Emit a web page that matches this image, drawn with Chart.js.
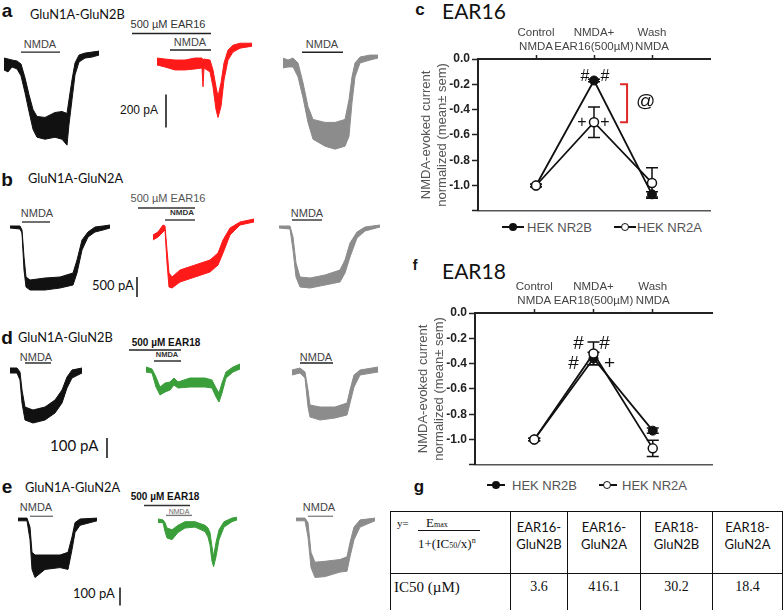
<!DOCTYPE html>
<html>
<head>
<meta charset="utf-8">
<script src="https://cdn.jsdelivr.net/npm/chart.js@4.4.0/dist/chart.umd.min.js"></script>
<style>
  body { margin: 0; background: #fff; }
  #fig { position: relative; width: 784px; height: 610px; overflow: hidden; background: #fff;
         font-family: "Liberation Sans", Arial, sans-serif; color: #111; }
  #fig canvas { position: absolute; }
  .c { position: absolute; white-space: nowrap; line-height: 1; transform: translate(-50%, -50%); }
  .l { position: absolute; white-space: nowrap; line-height: 1; transform: translateY(-50%); }
  .let { font-weight: bold; font-size: 19px; }
  .cal { font-family: Lato, "Open Sans", sans-serif; }
  .glu { font-size: 12.8px; }
  .nm { font-size: 11px; color: #444; }
  .tiny { font-size: 8px; font-weight: bold; color: #333; }
  .lgl { position: absolute; height: 2px; background: #111; }
  .dot { position: absolute; width: 8px; height: 8px; border-radius: 50%; transform: translate(-50%, -50%);
         box-sizing: border-box; }
  #tbl { position: absolute; left: 390px; top: 511px; border-collapse: collapse; table-layout: fixed; }
  #tbl td { border: 1.5px solid #111; padding: 0; text-align: center; vertical-align: top; }
  #tbl .hd td { height: 54px; }
  #tbl .hd td.h { font-family: Lato, sans-serif; font-size: 13px; line-height: 17px; padding-top: 7px; }
  #tbl .vr td { height: 39px; font-family: "Liberation Serif", serif; font-size: 14px; padding-top: 5px; }
  .ser { font-family: "Liberation Serif", serif; }
</style>
</head>
<body>
<div id="fig">
  <!-- row a -->
  <div class="c let" style="left:7px;top:10px">a</div>
  <div class="l cal glu" style="left:30px;top:14px">GluN1A-GluN2B</div>
  <div class="c nm" style="left:40px;top:44px">NMDA</div>
  <div class="c nm" style="left:168px;top:24px;color:#333">500 µM EAR16</div>
  <div class="c nm" style="left:190px;top:42px">NMDA</div>
  <div class="c nm" style="left:322px;top:44px">NMDA</div>
  <div class="l" style="left:120px;top:110px;font-size:12px">200 pA</div>

  <!-- row b -->
  <div class="c let" style="left:7px;top:179px">b</div>
  <div class="l cal glu" style="left:28px;top:178px">GluN1A-GluN2A</div>
  <div class="c nm" style="left:37px;top:213px">NMDA</div>
  <div class="c nm" style="left:168px;top:198px;color:#555">500 µM EAR16</div>
  <div class="c tiny" style="left:182px;top:213px">NMDA</div>
  <div class="c nm" style="left:307px;top:213px">NMDA</div>
  <div class="l cal" style="left:92px;top:285px;font-size:13px">500 pA</div>

  <!-- row d -->
  <div class="c let" style="left:7px;top:337px">d</div>
  <div class="l cal glu" style="left:18px;top:337px">GluN1A-GluN2B</div>
  <div class="c nm" style="left:36px;top:357px">NMDA</div>
  <div class="c" style="left:166px;top:343px;font-size:10px;font-weight:bold">500 µM EAR18</div>
  <div class="c tiny" style="left:167px;top:355px;font-size:7.5px">NMDA</div>
  <div class="c nm" style="left:316px;top:357px">NMDA</div>
  <div class="l cal" style="left:50px;top:445px;font-size:15px">100 pA</div>

  <!-- row e -->
  <div class="c let" style="left:7px;top:486px">e</div>
  <div class="l cal glu" style="left:25px;top:487px">GluN1A-GluN2A</div>
  <div class="c nm" style="left:36px;top:507px">NMDA</div>
  <div class="c" style="left:165px;top:497px;font-size:10px;font-weight:bold">500 µM EAR18</div>
  <div class="c tiny" style="left:179px;top:511px;font-size:7px;color:#666;font-weight:normal">NMDA</div>
  <div class="c nm" style="left:319px;top:507px">NMDA</div>
  <div class="l cal" style="left:73px;top:593px;font-size:13px">100 pA</div>

  <!-- panel c -->
  <div class="c let" style="left:420px;top:9px;font-size:17px">c</div>
  <div class="l cal" style="left:442px;top:10px;font-size:21px">EAR16</div>
  <div class="lgl" style="left:502px;top:226px;width:22px"></div>
  <div class="dot" style="left:513px;top:227px;background:#111"></div>
  <div class="l" style="left:527px;top:227px;font-size:13px;color:#555">HEK NR2B</div>
  <div class="lgl" style="left:614px;top:226px;width:22px"></div>
  <div class="dot" style="left:625px;top:227px;background:#fff;border:1.5px solid #111"></div>
  <div class="l" style="left:637px;top:227px;font-size:13px;color:#555">HEK NR2A</div>

  <!-- panel f -->
  <div class="c let" style="left:415px;top:265px;font-size:14px">f</div>
  <div class="l cal" style="left:442px;top:270px;font-size:21px">EAR18</div>
  <div class="lgl" style="left:487px;top:484px;width:18px"></div>
  <div class="dot" style="left:496px;top:485px;background:#111"></div>
  <div class="l" style="left:512px;top:485px;font-size:13px;color:#555">HEK NR2B</div>
  <div class="lgl" style="left:599px;top:484px;width:18px"></div>
  <div class="dot" style="left:607px;top:485px;background:#fff;border:1.5px solid #111"></div>
  <div class="l" style="left:622px;top:485px;font-size:13px;color:#555">HEK NR2A</div>

  <!-- panel g -->
  <div class="c let" style="left:419px;top:486px;font-size:17px">g</div>
  <table id="tbl">
    <col style="width:120px"><col style="width:57px"><col style="width:73px"><col style="width:72px"><col style="width:70px">
    <tr class="hd">
      <td class="ser" style="text-align:left">
        <div style="position:relative;height:54px">
          <span style="position:absolute;left:6px;top:5px;font-size:11px">y=</span>
          <span style="position:absolute;left:35px;top:3px;font-size:13px">E<span style="font-size:8px">max</span></span>
          <div style="position:absolute;left:27px;top:18px;width:62px;border-top:1px solid #111"></div>
          <span style="position:absolute;left:27px;top:24px;font-size:13px">1+(IC<span style="font-size:8px">50</span>/x)<sup style="font-size:8px">n</sup></span>
        </div>
      </td>
      <td class="h">EAR16-<br>GluN2B</td>
      <td class="h">EAR16-<br>GluN2A</td>
      <td class="h">EAR18-<br>GluN2B</td>
      <td class="h">EAR18-<br>GluN2A</td>
    </tr>
    <tr class="vr">
      <td style="text-align:left;padding-left:3px;font-size:15px">IC50 (µM)</td>
      <td id="ic0"></td><td id="ic1"></td><td id="ic2"></td><td id="ic3"></td>
    </tr>
  </table>
</div>

<script>
// ---------- data ----------
// current traces: time (s), lower / upper edge of the noisy trace (pA)
const a1_t  = [0, 1, 2, 3.25, 4.25, 5.25, 6.25, 7.25, 8.25, 10.25, 12.75, 14.5, 15.75, 16.25, 17, 17.75, 18.75, 20.25, 22, 23.75];
const a1_hi = [24, 18, 12, 6, -12, -96, -198, -288, -330, -336, -306, -300, -312, -228, -108, -6, 42, 54, 60, 66];
const a1_lo = [-48, -60, -30, -42, -84, -186, -300, -408, -456, -468, -456, -468, -504, -378, -228, -78, 0, 24, 30, 42];

const a2_t  = [0, 2, 4.5, 7, 9.5, 11.25, 11.5, 11.75, 13.25, 14, 14.75, 15.25, 16, 16.75, 17.75, 19, 20.75, 23.75];
const a2_hi = [36, 30, 24, 24, 36, 36, 24, 30, 24, -36, -138, -198, -114, 6, 84, 114, 126, 126];
const a2_lo = [-6, -18, -36, -36, -30, -24, -138, -24, -48, -138, -276, -324, -258, -96, 24, 72, 96, 108];

const a3_t  = [0, 1.25, 2.5, 3.75, 5, 6.25, 7.5, 10.5, 13, 15.5, 16.5, 17.25, 18, 19.25, 21.75, 23.75];
const a3_hi = [30, 18, 30, 0, -120, -264, -342, -360, -360, -342, -222, -84, 0, 36, 48, 48];
const a3_lo = [-30, -24, -24, -84, -210, -360, -462, -504, -522, -504, -444, -240, -84, 0, 18, 30];

const b1_t  = [0, 2.5, 3, 3.5, 4, 5, 8.75, 12.5, 15.75, 16.75, 18, 19.5, 21.25, 23.25, 25];
const b1_hi = [25, 25, -75, -750, -1250, -1325, -1275, -1250, -1150, -825, -325, -125, 0, 25, 50];
const b1_lo = [-25, -50, -150, -1075, -1500, -1575, -1575, -1525, -1450, -1150, -575, -250, -125, -75, -25];

const b2_t  = [0, 1.25, 2.5, 3, 3.5, 4, 4.75, 6.75, 10.5, 14.25, 16.25, 17.5, 19.25, 21.75, 25.25];
const b2_hi = [-200, -125, 50, 25, -575, -1150, -1250, -1075, -950, -825, -650, -325, -25, 125, 200];
const b2_lo = [-325, -250, -125, -75, -900, -1500, -1525, -1375, -1250, -1125, -950, -650, -200, 50, 125];

const b3_t  = [0, 2.75, 3.5, 4.25, 5.25, 7.75, 11.5, 15.25, 16.5, 17.75, 19.5, 21.5, 25.25];
const b3_hi = [25, 25, -250, -900, -1250, -1275, -1200, -1075, -825, -400, -125, 0, 50];
const b3_lo = [-25, -50, -575, -1250, -1500, -1525, -1450, -1375, -1150, -750, -275, -100, 0];

const d1_t  = [0, 1.75, 2.5, 3, 3.75, 5.75, 8.75, 11.25, 13, 14.25, 15.5, 18];
const d1_hi = [10, 10, -10, -100, -185, -200, -185, -150, -100, -35, 0, 10];
const d1_lo = [-15, -15, -50, -165, -250, -265, -250, -215, -165, -90, -40, -15];

const d2_t  = [0, 1.5, 2.5, 3.5, 4.75, 6, 7, 8, 11, 14.75, 16.5, 17.5, 18.25, 19, 20, 21.75, 23.5];
const d2_hi = [15, 5, -35, -85, -65, -60, -40, -60, -40, -40, -50, -90, -115, -65, -10, 15, 30];
const d2_lo = [-10, -15, -85, -125, -110, -100, -75, -90, -85, -85, -90, -135, -160, -115, -40, -10, 5];

const d3_t  = [0, 2, 3.25, 4, 4.5, 7, 10.75, 13.75, 14.5, 15.5, 17, 21.5];
const d3_hi = [0, 10, -10, -100, -175, -185, -185, -165, -100, -25, 0, 15];
const d3_lo = [-25, -15, -40, -185, -235, -250, -240, -225, -165, -85, -25, -10];

const e1_t  = [0, 2.25, 3, 3.5, 4.25, 6.75, 10.5, 12.5, 13.5, 14.25, 15.5, 19.75];
const e1_hi = [5, 5, -45, -185, -200, -200, -200, -185, -100, -20, 0, 5];
const e1_lo = [-10, -10, -115, -280, -325, -280, -270, -280, -170, -75, -35, -10];

const e2_t  = [0, 1.25, 1.75, 2.25, 3.5, 5, 6.75, 9.25, 11.75, 12.5, 13, 13.5, 13.9, 14.5, 15.25, 16.5, 18.5, 19.75];
const e2_hi = [0, -5, -20, -50, -60, -35, -15, -15, -35, -50, -75, -155, -210, -130, -60, -15, 5, 10];
const e2_lo = [-20, -20, -70, -105, -115, -75, -50, -45, -70, -100, -145, -235, -265, -210, -115, -45, -15, -5];

const e3_t  = [0, 2.25, 3, 3.75, 4.75, 7.25, 11, 12.75, 13.5, 14.5, 16, 19.75];
const e3_hi = [5, 5, -20, -185, -240, -235, -225, -210, -130, -45, -5, 5];
const e3_lo = [-10, -10, -100, -270, -325, -320, -295, -290, -210, -115, -45, -10];

// application bars: [start s, end s, level pA]
const a1_bars = [[4.25, 14, 60]];
const a2_bars = [[-6.25, 13.5, 185], [3.25, 13.5, 85]];
const a3_bars = [[4.75, 15, 65]];
const b1_bars = [[3, 10, 125]];
const b2_bars = [[-3.75, 10.5, 475], [3, 10.5, 175]];
const b3_bars = [[3.25, 10.75, 175]];
const d1_bars = [[3.75, 10.25, 35]];
const d2_bars = [[-4.25, 8.75, 100], [2, 8.75, 45]];
const d3_bars = [[2, 10.25, 35]];
const e1_bars = [[3, 8.75, 15]];
const e2_bars = [[-3.5, 8, 75], [2, 8.5, 20]];
const e3_bars = [[3, 9.25, 15]];

// scale bars (pA) for rows a, b, d, e
const scaleBarPA = [200, 500, 100, 100];

// summary plots
const catsEAR16 = [["Control", "NMDA"], ["NMDA+", "EAR16(500µM)"], ["Wash", "NMDA"]];
const catsEAR18 = [["Control", "NMDA"], ["NMDA+", "EAR18(500µM)"], ["Wash", "NMDA"]];
const ear16_nr2b     = [-1.0, -0.17, -1.07];
const ear16_nr2b_sem = [0.01, 0.01, 0.02];
const ear16_nr2a     = [-1.0, -0.50, -0.98];
const ear16_nr2a_sem = [0.01, 0.12, 0.12];
const ear18_nr2b     = [-1.0, -0.36, -0.93];
const ear18_nr2b_sem = [0.01, 0.05, 0.02];
const ear18_nr2a     = [-1.0, -0.32, -1.07];
const ear18_nr2a_sem = [0.01, 0.09, 0.065];

// IC50 table
const ic50Values = ["3.6", "416.1", "30.2", "18.4"];

// ---------- drawing ----------
const SANS = '"Liberation Sans", Arial, sans-serif';
const PX_PER_S = 4;
const rowPx = [33, 20, 20, 18];           // scale bar length on the page per row
const fig = document.getElementById("fig");

ic50Values.forEach((v, i) => { document.getElementById("ic" + i).textContent = v; });

function makeCanvas(l, t, w, h) {
  const cv = document.createElement("canvas");
  cv.width = w; cv.height = h;
  Object.assign(cv.style, { left: l + "px", top: t + "px", width: w + "px", height: h + "px" });
  fig.appendChild(cv);
  return cv;
}

function traceChart(s) {
  const [l, t, w, h] = s.box;
  const k = scaleBarPA[s.row] / rowPx[s.row];     // pA per page pixel
  const cv = makeCanvas(l, t, w, h);
  const col = s.color;
  const datasets = [
    { data: s.t.map((x, i) => ({ x, y: s.lo[i] })), borderColor: col, borderWidth: 1, fill: false, clip: false },
    { data: s.t.map((x, i) => ({ x, y: s.hi[i] })), borderColor: col, borderWidth: 1, backgroundColor: col, fill: "-1", clip: false }
  ];
  s.bars.forEach((b, i) => {
    datasets.push({ data: [{ x: b[0], y: b[2] }, { x: b[1], y: b[2] }],
      borderColor: (s.barColors && s.barColors[i]) || "#222", borderWidth: 1.4, fill: false, clip: false });
  });
  if (s.scale) {
    datasets.push({ data: [{ x: s.scale.t, y: s.scale.top }, { x: s.scale.t, y: s.scale.top - scaleBarPA[s.row] }],
      borderColor: "#111", borderWidth: 1.5, fill: false, clip: false });
  }
  new Chart(cv, {
    type: "line",
    data: { datasets },
    options: {
      responsive: false, animation: false, events: [], devicePixelRatio: 1,
      layout: { padding: 0 },
      plugins: { legend: { display: false }, tooltip: { enabled: false } },
      elements: { point: { radius: 0 }, line: { tension: 0 } },
      scales: {
        x: { type: "linear", display: false, min: (l - s.x0) / PX_PER_S, max: (l + w - s.x0) / PX_PER_S },
        y: { type: "linear", display: false, min: (s.y0 - (t + h)) * k, max: (s.y0 - t) * k }
      }
    }
  });
}

const BLACK = "#111", RED = "#ff1a1a", GRAY = "#8c8c8c", GREEN = "#3a9e3a";
const traces = [
  { t: a1_t, lo: a1_lo, hi: a1_hi, bars: a1_bars, color: BLACK, row: 0, box: [0, 45, 104, 108], x0: 4, y0: 62 },
  { t: a2_t, lo: a2_lo, hi: a2_hi, bars: a2_bars, color: RED, row: 0, box: [128, 28, 128, 104], x0: 157, y0: 64,
    scale: { t: 2.25, top: -185 } },
  { t: a3_t, lo: a3_lo, hi: a3_hi, bars: a3_bars, color: GRAY, row: 0, box: [278, 45, 104, 110], x0: 283, y0: 63 },
  { t: b1_t, lo: b1_lo, hi: b1_hi, bars: b1_bars, color: BLACK, row: 1, box: [5, 215, 110, 80], x0: 10, y0: 227,
    barColors: ["#333"] },
  { t: b2_t, lo: b2_lo, hi: b2_hi, bars: b2_bars, color: RED, row: 1, box: [130, 200, 128, 102], x0: 153, y0: 227,
    barColors: ["#333", "#333"], scale: { t: -4, top: -1250 } },
  { t: b3_t, lo: b3_lo, hi: b3_hi, bars: b3_bars, color: GRAY, row: 1, box: [274, 215, 110, 80], x0: 279, y0: 227,
    barColors: ["#333"] },
  { t: d1_t, lo: d1_lo, hi: d1_hi, bars: d1_bars, color: BLACK, row: 2, box: [5, 358, 108, 104], x0: 10, y0: 370,
    scale: { t: 24.25, top: -340 } },
  { t: d2_t, lo: d2_lo, hi: d2_hi, bars: d2_bars, color: GREEN, row: 2, box: [125, 345, 120, 62], x0: 146, y0: 370 },
  { t: d3_t, lo: d3_lo, hi: d3_hi, bars: d3_bars, color: GRAY, row: 2, box: [287, 358, 95, 68], x0: 292, y0: 370 },
  { t: e1_t, lo: e1_lo, hi: e1_hi, bars: e1_bars, color: BLACK, row: 3, box: [13, 510, 112, 98], x0: 18, y0: 519,
    barColors: ["#777"], scale: { t: 25.5, top: -380 } },
  { t: e2_t, lo: e2_lo, hi: e2_hi, bars: e2_bars, color: GREEN, row: 3, box: [140, 500, 102, 72], x0: 158, y0: 519,
    barColors: ["#333", "#777"] },
  { t: e3_t, lo: e3_lo, hi: e3_hi, bars: e3_bars, color: GRAY, row: 3, box: [291, 510, 90, 72], x0: 296, y0: 519,
    barColors: ["#888"] }
];
traces.forEach(traceChart);

function summaryChart(o) {
  const [l, t, w, h] = o.box;
  const [aL, aT, aR, aB] = o.area;
  const cv = makeCanvas(l, t, w, h);

  const errPlugin = {
    id: "errbars",
    beforeDatasetsDraw(ch) {
      const { ctx, scales: { x, y } } = ch;
      ctx.save();
      ctx.strokeStyle = "#111"; ctx.lineWidth = 1.5;
      [[o.b, o.bSem], [o.a, o.aSem]].forEach(([vals, sems]) => {
        vals.forEach((v, i) => {
          const px = x.getPixelForValue(i);
          const y1 = y.getPixelForValue(v + sems[i]), y2 = y.getPixelForValue(v - sems[i]);
          ctx.beginPath();
          ctx.moveTo(px, y1); ctx.lineTo(px, y2);
          ctx.moveTo(px - 6, y1); ctx.lineTo(px + 6, y1);
          ctx.moveTo(px - 6, y2); ctx.lineTo(px + 6, y2);
          ctx.stroke();
        });
      });
      ctx.restore();
    }
  };

  const markPlugin = {
    id: "marks",
    afterDatasetsDraw(ch) {
      const { ctx, scales: { x, y } } = ch;
      ctx.save();
      ctx.fillStyle = "#111"; ctx.textAlign = "center"; ctx.textBaseline = "middle";
      ctx.font = o.markFont;
      o.marks.forEach(m => ctx.fillText(m.text, x.getPixelForValue(m.x) + m.dx, y.getPixelForValue(m.y) + m.dy));
      if (o.bracket) {
        const bx = x.getPixelForValue(o.bracket.x);
        const y1 = y.getPixelForValue(o.bracket.y1), y2 = y.getPixelForValue(o.bracket.y2);
        ctx.strokeStyle = "#e02828"; ctx.lineWidth = 2;
        ctx.beginPath();
        ctx.moveTo(bx - 7, y1); ctx.lineTo(bx, y1); ctx.lineTo(bx, y2); ctx.lineTo(bx - 7, y2);
        ctx.stroke();
        ctx.fillStyle = "#111"; ctx.font = "19px " + SANS; ctx.textAlign = "left";
        ctx.fillText("@", bx + 9, (y1 + y2) / 2 - 2);
      }
      ctx.restore();
    }
  };

  new Chart(cv, {
    type: "line",
    data: {
      datasets: [
        { label: "HEK NR2A", order: 0, data: o.a.map((v, i) => ({ x: i, y: v })),
          borderColor: "#111", borderWidth: 1.8, pointRadius: 4.5,
          pointBackgroundColor: "#fff", pointBorderColor: "#111", pointBorderWidth: 1.5 },
        { label: "HEK NR2B", order: 1, data: o.b.map((v, i) => ({ x: i, y: v })),
          borderColor: "#111", borderWidth: 1.8, pointRadius: 4.5,
          pointBackgroundColor: "#111", pointBorderColor: "#111", pointBorderWidth: 1 }
      ]
    },
    options: {
      responsive: false, animation: false, events: [], devicePixelRatio: 1,
      layout: { padding: { left: 0, top: 0, right: l + w - aR, bottom: t + h - aB } },
      plugins: { legend: { display: false }, tooltip: { enabled: false } },
      elements: { line: { tension: 0 } },
      scales: {
        x: {
          type: "linear", position: "top", min: -1, max: 3,
          afterBuildTicks: s => { s.ticks = o.cats.map((c, i) => ({ value: i })); },
          afterFit: s => { s.height = aT - t; },
          ticks: { autoSkip: false, maxRotation: 0, padding: 1, color: "#444",
                   font: { family: SANS, size: 11.5 }, callback: v => o.cats[v] },
          grid: { drawOnChartArea: false, tickLength: 4, tickWidth: 1.5, tickColor: "#222" },
          border: { color: "#222", width: 2 }
        },
        x2: {
          type: "linear", position: "bottom", min: -1, max: 3,
          afterFit: s => { s.height = 0; },
          ticks: { display: false },
          grid: { drawOnChartArea: false, drawTicks: false },
          border: { color: "#555", width: 1.5, dash: [2, 3] }
        },
        y: {
          type: "linear", min: -1.2, max: 0,
          afterFit: s => { s.width = aL - l; },
          ticks: { stepSize: 0.2, padding: 2, color: "#222",
                   font: { family: SANS, size: 12, weight: "bold" },
                   callback: v => (v < -1.1 ? "" : v.toFixed(1)) },
          grid: { drawOnChartArea: false, tickLength: 6, tickWidth: 1.5, tickColor: "#222" },
          border: { color: "#222", width: 2 },
          title: { display: true, text: ["NMDA-evoked current", "normalized (mean\u00b1 sem)"],
                   color: "#555", font: { family: SANS, size: 13 }, padding: { top: 14, bottom: 0 } }
        }
      }
    },
    plugins: [errPlugin, markPlugin]
  });
}

summaryChart({
  box: [405, 20, 320, 200], area: [478, 59, 710, 214],
  cats: catsEAR16, b: ear16_nr2b, bSem: ear16_nr2b_sem, a: ear16_nr2a, aSem: ear16_nr2a_sem,
  markFont: "16px " + SANS,
  marks: [
    { text: "#", x: 1, y: ear16_nr2b[1], dx: -9, dy: -4 },
    { text: "#", x: 1, y: ear16_nr2b[1], dx: 11, dy: -4 },
    { text: "+", x: 1, y: ear16_nr2a[1], dx: -12, dy: 0 },
    { text: "+", x: 1, y: ear16_nr2a[1], dx: 11, dy: 0 }
  ],
  bracket: { x: 1.57, y1: -0.2, y2: -0.5 }
});

summaryChart({
  box: [402, 274, 320, 200], area: [475, 313, 712, 470],
  cats: catsEAR18, b: ear18_nr2b, bSem: ear18_nr2b_sem, a: ear18_nr2a, aSem: ear18_nr2a_sem,
  markFont: "19px " + SANS,
  marks: [
    { text: "#", x: 1, y: ear18_nr2a[1], dx: -15, dy: -10 },
    { text: "#", x: 1, y: ear18_nr2a[1], dx: 11, dy: -10 },
    { text: "#", x: 1, y: ear18_nr2b[1], dx: -20, dy: 5 },
    { text: "+", x: 1, y: ear18_nr2b[1], dx: 16, dy: 5 }
  ]
});
</script>
</body>
</html>
